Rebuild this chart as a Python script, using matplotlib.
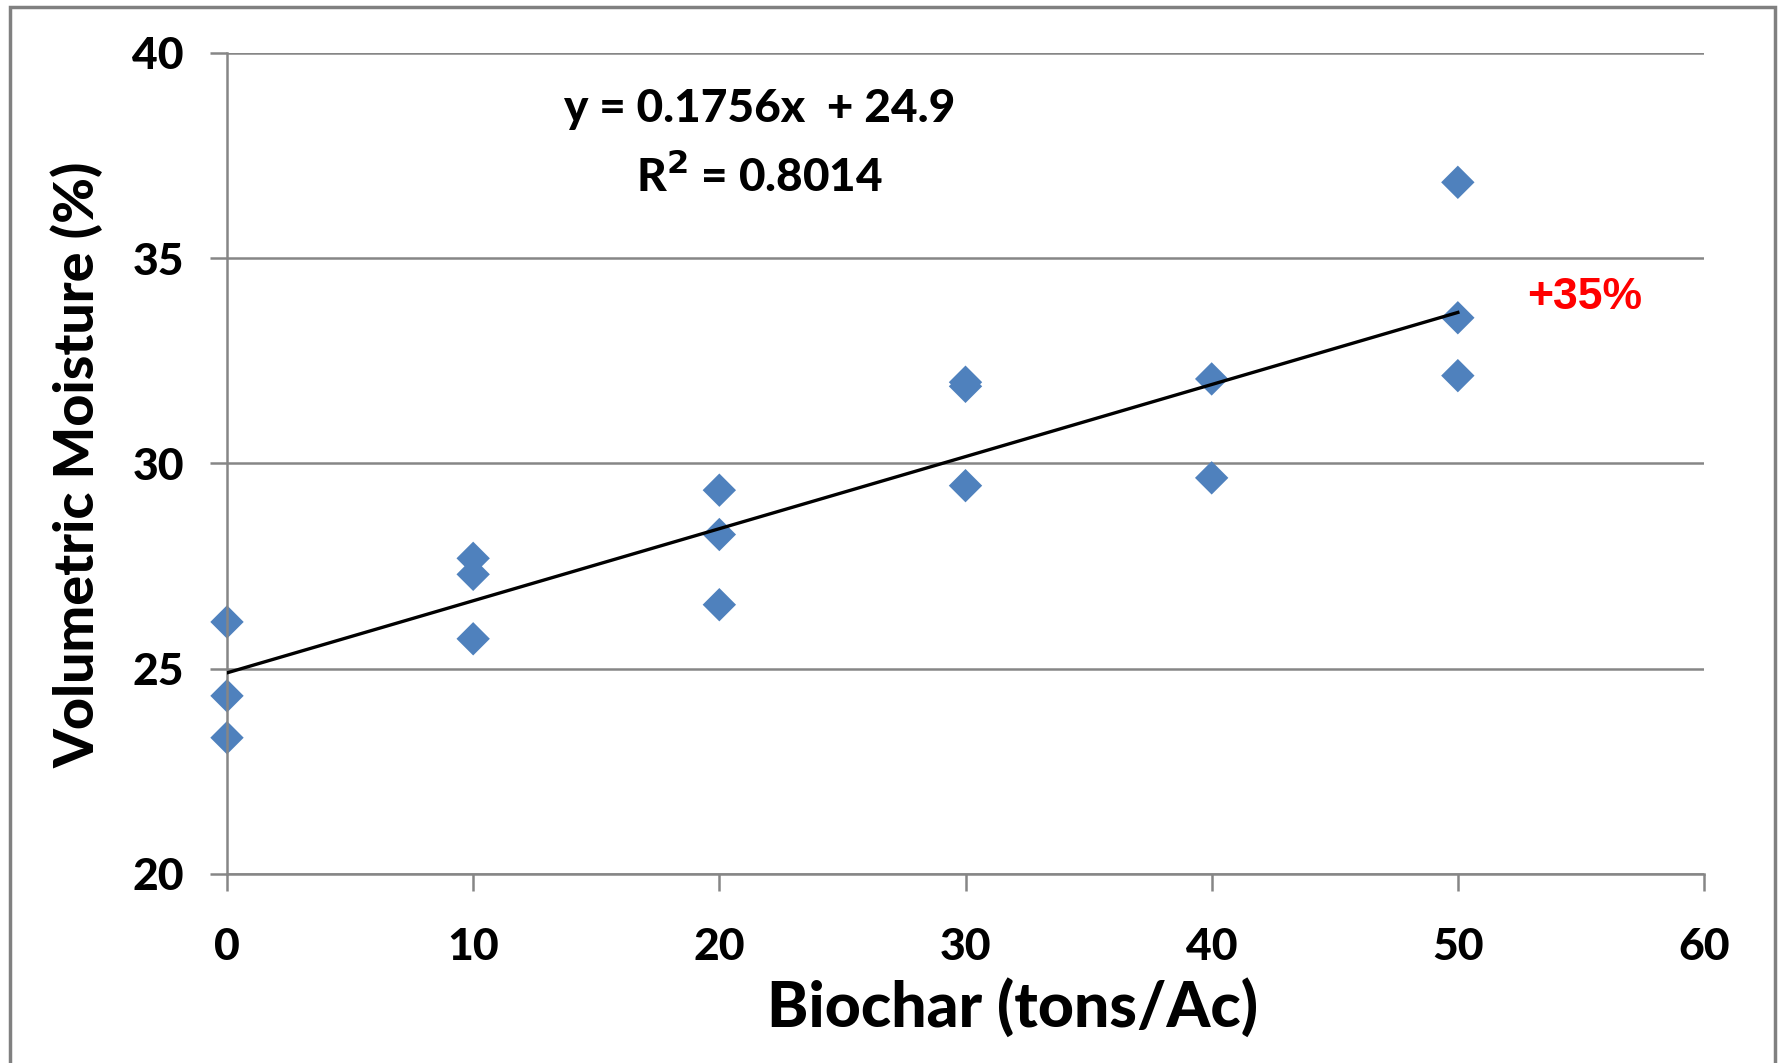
import matplotlib.pyplot as plt
import numpy as np
from matplotlib.patches import Rectangle

# === Data ===
biochar = [0, 0, 0, 10, 10, 10, 20, 20, 20, 30, 30, 30, 40, 40, 50, 50, 50]
moisture = [26.14, 24.34, 23.32, 27.69, 27.30, 25.73, 29.35, 28.27, 26.56,
            31.98, 31.88, 29.46, 32.06, 29.65, 36.85, 33.55, 32.14]
slope = 0.1756
intercept = 24.9
r_squared = 0.8014
x_ticks = [0, 10, 20, 30, 40, 50, 60]
y_ticks = [20, 25, 30, 35, 40]

plt.rcParams['font.family'] = ['Lato', 'DejaVu Sans']
W = 'black'  # heaviest Lato weight, closest to the bold Calibri look

fig = plt.figure(figsize=(17.79, 10.63), dpi=100)
ax = fig.add_axes([227 / 1779, 1 - 874 / 1063, (1704 - 227) / 1779, (874 - 53) / 1063])

grid_col = '#868686'

# gridlines
for y in y_ticks:
    ax.axhline(y, color=grid_col, lw=1.8, zorder=1)

# trendline over data range
xs = np.array([min(biochar), max(biochar)])
ax.plot(xs, slope * xs + intercept, color='black', lw=2.4, zorder=3)

ax.scatter(biochar, moisture, marker='D', s=17 ** 2, color='#4F81BD',
           edgecolors='none', zorder=2, clip_on=False)

ax.set_xlim(0, 60)
ax.set_ylim(20, 40)
ax.set_xticks(x_ticks)
ax.set_yticks(y_ticks)
ax.tick_params(axis='both', length=12, width=1.8, color=grid_col,
               labelsize=32, direction='out')
ax.tick_params(axis='y', pad=19)
ax.tick_params(axis='x', pad=26)
for lab in ax.get_xticklabels() + ax.get_yticklabels():
    lab.set_fontweight(W)

for side in ['top', 'right']:
    ax.spines[side].set_visible(False)
for side in ['left', 'bottom']:
    ax.spines[side].set_color(grid_col)
    ax.spines[side].set_linewidth(1.8)

# === Text ===
fig.text(1013 / 1779, 1 - 1008 / 1063, "Biochar (tons/Ac)", fontsize=45,
         fontweight=W, ha='center', va='center')
fig.text(77 / 1779, 1 - 465 / 1063, "Volumetric Moisture (%)", fontsize=40,
         fontweight=W, ha='center', va='center', rotation=90)

fig.text(760 / 1779, 1 - 109 / 1063, f"y = {slope}x  + {intercept}", fontsize=33,
         fontweight=W, ha='center', va='center')
fig.text(760 / 1779, 1 - 176 / 1063, f"R$^\\mathbf{{2}}$ = {r_squared}", fontsize=33,
         fontweight=W, ha='center', va='center')
fig.text(1585 / 1779, 1 - 298 / 1063, "+35%", fontsize=32, color='#FF0000',
         fontweight='bold', ha='center', va='center',
         family=['Liberation Sans', 'DejaVu Sans'])

# chart area border
fig.patches.append(Rectangle((10 / 1779, -0.01), (1775 - 10) / 1779, 1 - 7 / 1063 + 0.01,
                             transform=fig.transFigure, fill=False,
                             edgecolor='#808080', lw=2.5))

fig.savefig('out.png', dpi=100)
